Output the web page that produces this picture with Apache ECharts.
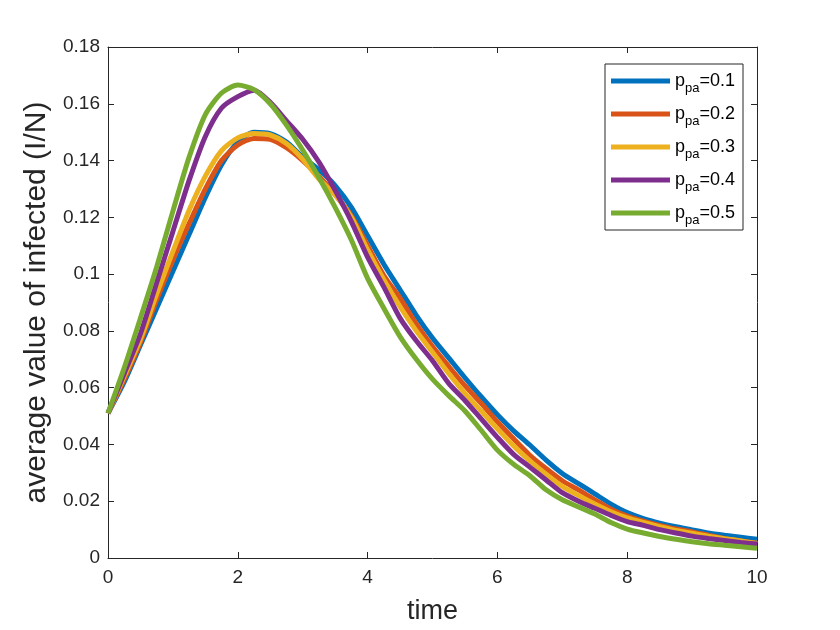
<!DOCTYPE html>
<html><head><meta charset="utf-8">
<script src="https://cdn.jsdelivr.net/npm/echarts@6/dist/echarts.min.js"></script>
<style>html,body{margin:0;padding:0;background:#fff}#c{width:840px;height:630px}</style>
</head><body><div id="c"></div>
<script>
const time = [0,0.25,0.5,0.75,1,1.25,1.5,1.75,2,2.25,2.5,2.75,3,3.25,3.5,3.75,4,4.25,4.5,4.75,5,5.25,5.5,5.75,6,6.25,6.5,6.75,7,7.25,7.5,7.75,8,8.25,8.5,8.75,9,9.25,9.5,9.75,10];
const ppa01 = [0.051,0.062,0.075,0.088,0.101,0.114,0.127,0.1385,0.1465,0.1500,0.1495,0.1465,0.1412,0.1368,0.1312,0.1235,0.1135,0.1035,0.0945,0.0855,0.0775,0.0705,0.0635,0.0568,0.0505,0.0448,0.0398,0.0345,0.0298,0.0262,0.0226,0.0190,0.0160,0.0139,0.0123,0.0110,0.0099,0.0088,0.0080,0.0073,0.0066];
const ppa02 = [0.051,0.063,0.076,0.091,0.105,0.1178,0.130,0.140,0.1455,0.1478,0.1475,0.1445,0.140,0.1345,0.128,0.1205,0.110,0.0995,0.0915,0.0825,0.0745,0.0675,0.0607,0.0545,0.0480,0.0420,0.0362,0.0315,0.0272,0.0240,0.0205,0.0172,0.0148,0.0130,0.0115,0.0102,0.0092,0.0080,0.0068,0.0060,0.0052];
const ppa03 = [0.051,0.064,0.077,0.093,0.108,0.1225,0.1345,0.1435,0.148,0.1495,0.149,0.146,0.1405,0.1335,0.128,0.120,0.1085,0.098,0.0885,0.080,0.0725,0.065,0.058,0.0518,0.0455,0.0395,0.0342,0.0295,0.0252,0.022,0.019,0.0163,0.0141,0.0125,0.011,0.0097,0.0087,0.0077,0.0068,0.0060,0.0051];
const ppa04 = [0.051,0.065,0.079,0.097,0.115,0.133,0.1485,0.1585,0.1625,0.1648,0.1605,0.154,0.1475,0.1395,0.1295,0.1185,0.106,0.0955,0.0845,0.0765,0.0695,0.0615,0.0555,0.049,0.0425,0.0365,0.032,0.0275,0.0230,0.0200,0.0175,0.0150,0.0128,0.0115,0.0100,0.0088,0.0077,0.0069,0.0062,0.0055,0.0049];
const ppa05 = [0.051,0.067,0.0845,0.1025,0.1222,0.1412,0.1562,0.1638,0.1666,0.165,0.160,0.1525,0.1437,0.134,0.1235,0.112,0.0985,0.088,0.078,0.070,0.063,0.0572,0.0518,0.045,0.038,0.033,0.029,0.024,0.0205,0.018,0.0155,0.0125,0.0102,0.0088,0.0076,0.0066,0.0057,0.0050,0.0045,0.0040,0.0034];
const seriesValues = [ppa01, ppa02, ppa03, ppa04, ppa05];
const ppaLabels = ['0.1','0.2','0.3','0.4','0.5'];
const colors = ['#0072BD','#D95319','#EDB120','#7E2F8E','#77AC30'];
const xTickLabels = ['0','2','4','6','8','10'];
const yTickLabels = ['0','0.02','0.04','0.06','0.08','0.1','0.12','0.14','0.16','0.18'];

const FONT = "'Liberation Sans', Arial, Helvetica, sans-serif";
const AX = '#262626';
const chart = echarts.init(document.getElementById('c'));

function axisBase() {
  return {
    axisLine: {show: true, onZero: false, lineStyle: {color: AX, width: 1}},
    axisTick: {show: true, inside: true, length: 6, lineStyle: {color: AX}},
    splitLine: {show: false}
  };
}

const series = seriesValues.map((vals, i) => ({
  name: 'ppa=' + ppaLabels[i],
  type: 'line',
  data: time.map((t, j) => [t, vals[j]]),
  showSymbol: false,
  symbol: 'none',
  smooth: 0.25,
  lineStyle: {width: 5, color: colors[i]},
  itemStyle: {color: colors[i]},
  z: 2 + i
}));

chart.setOption({
  animation: false,
  backgroundColor: '#fff',
  textStyle: {fontFamily: FONT},
  grid: {left: 108, right: 83, top: 47, bottom: 72, containLabel: false},
  xAxis: [
    Object.assign(axisBase(), {
      type: 'value', min: 0, max: 10, interval: 2, position: 'bottom',
      axisLabel: {fontSize: 19, color: AX, margin: 10, fontFamily: FONT,
        formatter: v => xTickLabels[Math.round(v / 2)]},
      name: 'time', nameLocation: 'middle', nameGap: 40,
      nameTextStyle: {fontSize: 27, color: AX, fontFamily: FONT}
    }),
    Object.assign(axisBase(), {
      type: 'value', min: 0, max: 10, interval: 2, position: 'top',
      axisLabel: {show: false}
    })
  ],
  yAxis: [
    Object.assign(axisBase(), {
      type: 'value', min: 0, max: 0.18, interval: 0.02, position: 'left',
      axisLabel: {fontSize: 19, color: AX, margin: 8, fontFamily: FONT,
        formatter: v => yTickLabels[Math.round(v / 0.02)]},
      name: 'average value of infected (I/N)', nameLocation: 'middle', nameGap: 53,
      nameTextStyle: {fontSize: 30, color: AX, fontFamily: FONT}
    }),
    Object.assign(axisBase(), {
      type: 'value', min: 0, max: 0.18, interval: 0.02, position: 'right',
      axisLabel: {show: false}
    })
  ],
  legend: {
    orient: 'vertical', left: 605, top: 64,
    padding: [4, 8, 3, 6], itemGap: 6,
    itemWidth: 59, itemHeight: 5, icon: 'rect',
    backgroundColor: '#fff', borderColor: AX, borderWidth: 1, borderRadius: 0,
    data: ppaLabels.map(l => 'ppa=' + l),
    formatter: name => '{p|p}{s|pa}{p|=' + name.split('=')[1] + '}',
    textStyle: {
      fontFamily: FONT, color: '#000',
      rich: {
        p: {fontSize: 18, lineHeight: 26, height: 26, verticalAlign: 'middle', fontFamily: FONT, color: '#000'},
        s: {fontSize: 13, lineHeight: 12, padding: [14, 0, 0, 0], verticalAlign: 'top', fontFamily: FONT, color: '#000'}
      }
    }
  },
  series: series
});
</script>
</body></html>
